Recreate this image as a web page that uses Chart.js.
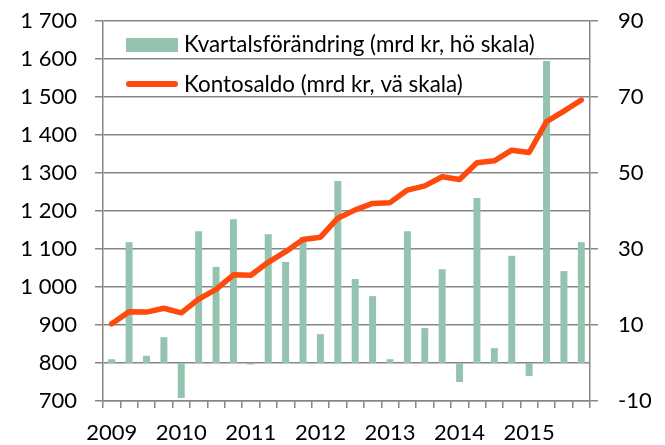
<!DOCTYPE html>
<html><head><meta charset="utf-8">
<script src="https://cdn.jsdelivr.net/npm/chart.js@4.4.0/dist/chart.umd.min.js"></script>
<style>html,body{margin:0;padding:0;background:#fff;}#wrap{width:665px;height:445px;position:relative;}</style>
</head><body><div id="wrap"><canvas id="c" width="665" height="445"></canvas></div>
<script>
const quarters = ['2009 K1','2009 K2','2009 K3','2009 K4','2010 K1','2010 K2','2010 K3','2010 K4',
  '2011 K1','2011 K2','2011 K3','2011 K4','2012 K1','2012 K2','2012 K3','2012 K4',
  '2013 K1','2013 K2','2013 K3','2013 K4','2014 K1','2014 K2','2014 K3','2014 K4',
  '2015 K1','2015 K2','2015 K3','2015 K4'];
const quarterlyChange = [1.0, 31.8, 1.9, 6.8, -9.2, 34.7, 25.3, 37.8, -0.4, 33.9, 26.6, 33.1, 7.6, 47.9,
  22.1, 17.6, 1.0, 34.7, 9.2, 24.7, -5.0, 43.4, 3.9, 28.2, -3.4, 79.5, 24.2, 31.8];
const accountBalance = [903, 935, 934, 944, 932, 968, 994, 1032, 1031, 1065, 1093, 1125, 1131, 1181,
  1203, 1220, 1222, 1255, 1266, 1290, 1283, 1327, 1332, 1360, 1354, 1435, 1463, 1492];
const seriesNames = ['Kvartalsförändring (mrd kr, hö skala)', 'Kontosaldo (mrd kr, vä skala)'];
const leftAxis = {min: 700, max: 1700, step: 100};
const rightAxis = {min: -10, max: 90, step: 20};

const GRID = '#868686';
const FONT = 'Lato';

function fmtThousands(v){
  if (Math.abs(v) >= 1000){
    const t = Math.floor(v/1000), r = String(v % 1000).padStart(3,'0');
    return t + ' ' + r;
  }
  return String(v);
}

const legendPlugin = {
  id: 'customLegend',
  afterDraw(chart){
    const ctx = chart.ctx, ds = chart.data.datasets;
    ctx.save();
    ctx.fillStyle = ds[0].backgroundColor;
    ctx.fillRect(126, 38, 52, 14);
    ctx.strokeStyle = ds[1].borderColor;
    ctx.lineWidth = 6; ctx.lineCap = 'round';
    ctx.beginPath(); ctx.moveTo(129, 84); ctx.lineTo(175, 84); ctx.stroke();
    ctx.fillStyle = '#000';
    ctx.font = '22.4px ' + FONT;
    ctx.textBaseline = 'alphabetic';
    ctx.fillText(ds[0].label, 184, 52);
    ctx.fillText(ds[1].label, 184, 92);
    ctx.restore();
  }
};

function fitV(w){ return s => { s.width = w; s.paddingTop = 0; s.paddingBottom = 0; }; }

new Chart(document.getElementById('c'), {
  data: {
    labels: quarters,
    datasets: [
      {type: 'bar', label: seriesNames[0], data: quarterlyChange, yAxisID: 'y2',
       backgroundColor: '#94c4af', barPercentage: 0.8, categoryPercentage: 0.5, order: 2},
      {type: 'line', label: seriesNames[1], data: accountBalance, yAxisID: 'y',
       borderColor: '#ff4a0d', borderWidth: 5.5, pointRadius: 0, tension: 0,
       borderJoinStyle: 'round', borderCapStyle: 'round', order: 1}
    ]
  },
  options: {
    responsive: false, animation: false, devicePixelRatio: 1,
    layout: {padding: {top: 21, bottom: 0, left: 0, right: 0}},
    plugins: {legend: {display: false}, tooltip: {enabled: false}, title: {display: false}},
    scales: {
      x: {
        offset: true,
        grid: {display: true, drawOnChartArea: false, drawTicks: true, tickLength: 7, color: GRID, lineWidth: 1.5, offset: true},
        border: {display: true, color: GRID, width: 1.5},
        ticks: {autoSkip: false, maxRotation: 0, minRotation: 0, padding: 12, color: '#000',
          font: {family: FONT, size: 22},
          callback: function(v, i){ const l = quarters[i]; return l.endsWith('K1') ? l.slice(0,4) : ''; }},
        afterFit: s => { s.height = 44; s.paddingLeft = 0; s.paddingRight = 0; }
      },
      y: {
        position: 'left', min: leftAxis.min, max: leftAxis.max,
        grid: {color: GRID, lineWidth: 1.5, tickLength: 8},
        border: {display: true, color: GRID, width: 1.5},
        ticks: {stepSize: leftAxis.step, padding: 18, color: '#000', font: {family: FONT, size: 22},
          callback: v => fmtThousands(v)},
        afterFit: fitV(103)
      },
      y2: {
        position: 'right', min: rightAxis.min, max: rightAxis.max,
        grid: {drawOnChartArea: false, color: GRID, lineWidth: 1.5, tickLength: 8},
        border: {display: true, color: GRID, width: 1.5},
        ticks: {stepSize: rightAxis.step, padding: 20, color: '#000', font: {family: FONT, size: 22}},
        afterFit: fitV(75)
      }
    }
  },
  plugins: [legendPlugin]
});
</script>
</body></html>
